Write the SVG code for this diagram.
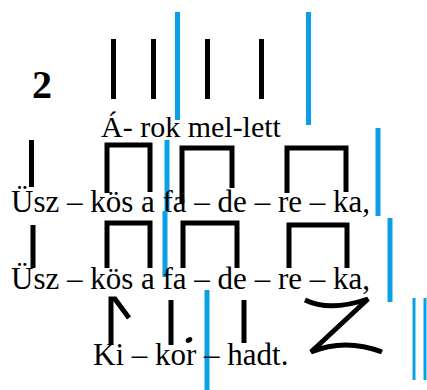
<svg xmlns="http://www.w3.org/2000/svg" width="427" height="390" viewBox="0 0 427 390">
<style>
.k{stroke:#000;stroke-width:5;fill:none;stroke-linejoin:miter;stroke-linecap:butt}
.b{stroke:#0aa0e6;stroke-width:5;fill:none}
.bt{stroke:#0aa0e6;stroke-width:3;fill:none}
.t{font-family:"Liberation Serif","Times New Roman",serif;font-size:31px;fill:#000}
.n{font-family:"Liberation Serif","Times New Roman",serif;font-size:40px;font-weight:bold;fill:#000}
</style>
<rect width="427" height="390" fill="#fff"/>
<g id="number"><text class="n" x="32" y="98">2</text></g>
<g id="row1">
<path class="k" d="M113.5,39V99M153.5,39V99M207.5,39V99M261.5,39V99"/>
<path class="b" d="M177.5,12V120M308.5,12V125"/>
<text class="t" x="101" y="137" style="font-size:30px">Á- rok mel-lett</text>
</g>
<g id="row2">
<path class="k" d="M31.5,140V187"/>
<path class="k" d="M107,193V145H150V192"/>
<path class="k" d="M182,203V148H232V188"/>
<path class="k" d="M287,193V148H346V192"/>
<path class="b" d="M167,140V211M378,128V216"/>
<text class="t" x="11" y="212">Üsz – kös a fa – de – re – ka,</text>
</g>
<g id="row3">
<path class="k" d="M33,225V268"/>
<path class="k" d="M107,268V223H150V268"/>
<path class="k" d="M183,268V223H237V268"/>
<path class="k" d="M289,268V225H347V268"/>
<path class="b" d="M165,211V277M390,218V302"/>
<text class="t" x="11" y="289">Üsz – kös a fa – de – re – ka,</text>
</g>
<g id="row4">
<path class="k" d="M111,345V299H115L129,318"/>
<path class="k" d="M171,300V345M244,300V343"/>
<ellipse cx="189" cy="340" rx="3.5" ry="2.5" transform="rotate(-30 189 340)" fill="#000"/>
<path class="k" stroke-width="6" d="M305,300Q330,312 368,299L311,352Q345,338 382,352"/>
<path class="b" d="M207,290V390"/>
<path class="bt" d="M414,298V380M425,298V380"/>
<text class="t" x="93" y="365">Ki – kor – hadt.</text>
</g>
</svg>
